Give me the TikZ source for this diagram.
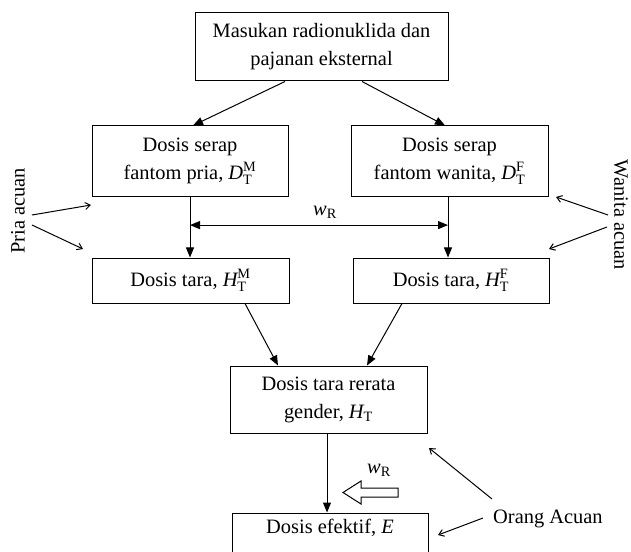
\documentclass[tikz,border=0pt]{standalone}
\usepackage{fontspec}
\usepackage{amsmath}
\setmainfont{Liberation Serif}
\usetikzlibrary{arrows.meta,calc}
\begin{document}
\begin{tikzpicture}[x=1bp,y=-1bp,
  box/.style={draw,line width=1bp,inner sep=0,align=center,font=\fontsize{20.5}{28}\selectfont},
  lbl/.style={inner sep=0,font=\fontsize{20.5}{28}\selectfont},
  flow/.style={line width=1bp,-{Triangle[length=10bp,width=8bp]}},
  side/.style={line width=1bp,-{Straight Barb[length=5bp,width=7bp]}}]
\useasboundingbox (0,0) rectangle (631,552);
\fill[white] (0,0) rectangle (631,552);
% boxes
\node[box,minimum width=253bp,minimum height=68bp] (top) at (321.5,47) {Masukan radionuklida dan\\pajanan eksternal};
\node[box,minimum width=196bp,minimum height=71bp] (DM) at (190,161.5) {Dosis serap\\fantom pria, $\textit{D}_{\text{T}}^{\text{M}}$};
\node[box,minimum width=197bp,minimum height=71bp] (DF) at (449.5,161.5) {Dosis serap\\fantom wanita, $\textit{D}_{\text{T}}^{\text{F}}$};
\node[box,minimum width=197bp,minimum height=45bp] (HM) at (190.5,280.5) {Dosis tara, $\textit{H}_{\text{T}}^{\text{M}}$};
\node[box,minimum width=196bp,minimum height=45bp] (HF) at (451,280.5) {Dosis tara, $\textit{H}_{\text{T}}^{\text{F}}$};
\node[box,minimum width=197bp,minimum height=67bp] (mid) at (328.5,399.5) {Dosis tara rerata\\gender, $\textit{H}_{\text{T}}$};
\node[box,minimum width=196bp,minimum height=46bp] (E) at (330,536) {};
\node[lbl] (Etext) at (330,528) {Dosis efektif, $\textit{E}$};
% side labels
\node[lbl,rotate=90] (pria) at (18,211) {Pria acuan};
\node[lbl,rotate=-90] (wanita) at (621,215) {Wanita acuan};
\node[lbl,anchor=west] (orang) at (493,519) {Orang Acuan};
\node[lbl] (wR1) at (325,212) {$\textit{w}_{\text{R}}$};
\node[lbl] (wR2) at (379,470) {$\textit{w}_{\text{R}}$};
% flow connectors
\coordinate (dfs) at ([xshift=-1.5bp]DF.south);
\coordinate (mids) at ([xshift=-1.5bp]mid.south);
\draw[flow] ([xshift=-36.5bp]top.south) -- ([xshift=3bp]DM.north);
\draw[flow] ([xshift=40.5bp]top.south) -- ([xshift=-4.5bp]DF.north);
\draw[flow] (DM.south) -- (DM.south |- HM.north);
\draw[flow] (dfs) -- (dfs |- HF.north);
\coordinate (wl) at ($(DM.south)!0.46!(DM.south |- HM.north)$);
\draw[line width=1bp,{Triangle[length=10bp,width=8bp]}-{Triangle[length=10bp,width=8bp]}] (wl) -- (wl -| dfs);
\draw[flow] ([xshift=54.5bp]HM.south) -- ([xshift=-50.5bp]mid.north);
\draw[flow] ([xshift=-49bp]HF.south) -- ([xshift=38.5bp]mid.north);
\draw[flow] (mids) -- (mids |- E.north);
% hollow arrow
\draw[line width=1bp] (398,488) -- (361,488) -- (361,481) -- (343,492.5) -- (361,504) -- (361,497) -- (398,497) -- cycle;
% side arrows
\coordinate (p1s) at (32,215); \coordinate (p1e) at (91,205);
\coordinate (p2s) at (32,225); \coordinate (p2e) at (83,249);
\coordinate (w1s) at (608,215); \coordinate (w1e) at (556,197);
\coordinate (w2s) at (607,227); \coordinate (w2e) at (549,249);
\coordinate (o1s) at (492,499); \coordinate (o1e) at (429,448);
\coordinate (o2s) at (483,518); \coordinate (o2e) at (438,535);
\draw[side] (p1s) -- (p1e);
\draw[side] (p2s) -- (p2e);
\draw[side] (w1s) -- (w1e);
\draw[side] (w2s) -- (w2e);
\draw[side] (o1s) -- (o1e);
\draw[side] (o2s) -- (o2e);
\end{tikzpicture}
\end{document}
